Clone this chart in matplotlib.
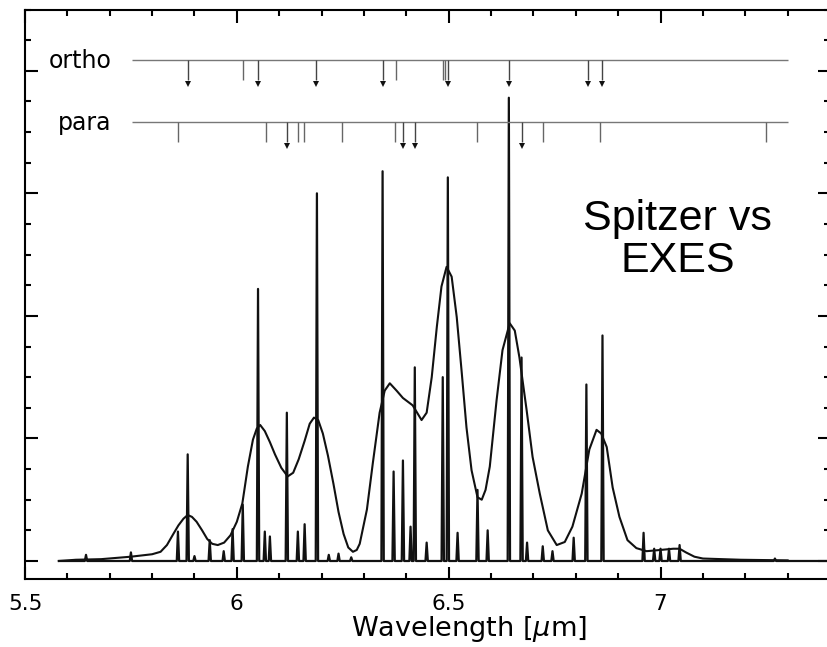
import numpy as np
import matplotlib
matplotlib.use('Agg')
import matplotlib.pyplot as plt
from matplotlib.ticker import MultipleLocator, NullFormatter

# EXES narrow lines: centre wavelength (um) and peak height
exes_wl = [5.644, 5.75, 5.861, 5.884, 5.90, 5.936, 5.969, 5.99, 6.014, 6.05, 6.066, 6.078,
           6.118, 6.144, 6.16, 6.189, 6.217, 6.24, 6.27, 6.344, 6.37, 6.392, 6.41, 6.42,
           6.448, 6.486, 6.498, 6.521, 6.568, 6.592, 6.642, 6.672, 6.685, 6.722, 6.745,
           6.795, 6.825, 6.863, 6.96, 6.985, 7.0, 7.02, 7.045, 7.27]
exes_h = [0.05, 0.07, 0.24, 0.87, 0.04, 0.17, 0.08, 0.26, 0.46, 2.22, 0.24, 0.20,
          1.21, 0.24, 0.30, 3.00, 0.05, 0.06, 0.03, 3.18, 0.73, 0.82, 0.28, 1.58,
          0.15, 1.50, 3.13, 0.23, 0.58, 0.25, 3.78, 1.66, 0.15, 0.12, 0.08,
          0.19, 1.44, 1.84, 0.23, 0.10, 0.10, 0.10, 0.13, 0.02]

# Spitzer broad profile
spitzer_wl = [5.58, 5.62, 5.68, 5.75, 5.80, 5.82, 5.835, 5.85, 5.862, 5.874, 5.884, 5.894,
              5.905, 5.918, 5.93, 5.942, 5.955, 5.97, 5.985, 6.0, 6.013, 6.026, 6.038, 6.047,
              6.055, 6.066, 6.078, 6.09, 6.105, 6.12, 6.133, 6.146, 6.16, 6.172, 6.182, 6.192,
              6.203, 6.215, 6.228, 6.24, 6.252, 6.263, 6.274, 6.283, 6.29, 6.307, 6.321, 6.337,
              6.349, 6.361, 6.377, 6.392, 6.415, 6.436, 6.448, 6.46, 6.472, 6.483, 6.495,
              6.507, 6.519, 6.531, 6.542, 6.554, 6.568, 6.578, 6.587, 6.597, 6.613, 6.627,
              6.644, 6.656, 6.667, 6.684, 6.698, 6.715, 6.734, 6.755, 6.774, 6.792, 6.814,
              6.832, 6.849, 6.86, 6.873, 6.887, 6.903, 6.922, 6.943, 6.967, 7.0, 7.03,
              7.045, 7.06, 7.08, 7.1, 7.19, 7.3]
spitzer_flux = [0.0, 0.01, 0.015, 0.035, 0.055, 0.075, 0.13, 0.22, 0.29, 0.345, 0.375, 0.36,
                0.32, 0.25, 0.18, 0.14, 0.13, 0.15, 0.21, 0.32, 0.47, 0.77, 0.99, 1.08,
                1.11, 1.06, 0.97, 0.87, 0.76, 0.69, 0.72, 0.83, 0.98, 1.12, 1.17, 1.15,
                1.04, 0.86, 0.63, 0.40, 0.22, 0.11, 0.075, 0.09, 0.14, 0.42, 0.80, 1.21,
                1.39, 1.45, 1.39, 1.33, 1.27, 1.15, 1.21, 1.50, 1.91, 2.24, 2.40,
                2.32, 1.99, 1.53, 1.09, 0.74, 0.52, 0.50, 0.58, 0.77, 1.31, 1.72,
                1.94, 1.88, 1.66, 1.23, 0.85, 0.55, 0.25, 0.13, 0.155, 0.28, 0.55,
                0.91, 1.07, 1.04, 0.93, 0.60, 0.36, 0.17, 0.105, 0.08, 0.09, 0.10,
                0.10, 0.07, 0.035, 0.02, 0.01, 0.005]

# ortho / para line markers
ortho_arrow = [5.884, 6.05, 6.186, 6.344, 6.498, 6.642, 6.828, 6.863]
ortho_plain = [6.014, 6.375, 6.486, 6.491]
para_arrow = [6.118, 6.392, 6.42, 6.672]
para_plain = [5.861, 6.068, 6.144, 6.158, 6.248, 6.373, 6.568, 6.722, 6.856, 7.248]

ortho_y = 4.086
para_y = 3.58

fig = plt.figure(figsize=(8.27, 6.47), dpi=100)
ax = fig.add_axes([25/827, 68/647, 805/827, 569.5/647])

# build the EXES polyline from the line list
hw = 0.0028
xs = [5.58]
ys = [0.0]
for w, h in sorted(zip(exes_wl, exes_h)):
    xs += [w - hw, w, w + hw]
    ys += [0.0, h, 0.0]
xs.append(7.4)
ys.append(0.0)
ax.plot(xs, ys, color='#111111', lw=1.6)
ax.plot(spitzer_wl, spitzer_flux, color='#111111', lw=1.5)

# ortho / para ladders
for y0, arr, plain, name, ty in [(ortho_y, ortho_arrow, ortho_plain, 'ortho', 4.02),
                                 (para_y, para_arrow, para_plain, 'para', 3.515)]:
    ax.hlines(y0, 5.752, 7.30, color='#777777', lw=1)
    ax.vlines(plain, y0 - 0.165, y0, color='#666666', lw=1)
    ax.vlines(arr, y0 - 0.16, y0, color='#444444', lw=1)
    ax.plot(arr, [y0 - 0.19] * len(arr), 'v', color='#111111', ms=5, mew=0)
    ax.text(5.705, ty, name, ha='right', va='baseline', fontsize=17)

ax.text(7.04, 2.62, 'Spitzer vs\nEXES', ha='center', va='center', fontsize=31,
        family='Liberation Sans', linespacing=1.05)

ax.set_xlim(5.5, 7.4)
ax.set_ylim(-0.147, 4.5)
ax.xaxis.set_minor_locator(MultipleLocator(0.1))
ax.yaxis.set_major_locator(MultipleLocator(1))
ax.yaxis.set_minor_locator(MultipleLocator(0.25))
ax.yaxis.set_major_formatter(NullFormatter())
ax.set_xticks([5.5, 6, 6.5, 7])
ax.set_xticklabels(['5.5', '6', '6.5', '7'])
ax.tick_params(which='both', direction='in', top=True, right=True, width=1.5)
ax.tick_params(which='major', length=9, labelsize=15.5, pad=11)
ax.tick_params(which='minor', length=4.5)
for s in ax.spines.values():
    s.set_linewidth(1.5)

ax.set_xlabel(r'Wavelength [$\mu$m]', fontsize=19.5)
ax.xaxis.set_label_coords(0.552, -0.062)

fig.savefig('out.png', dpi=100)
